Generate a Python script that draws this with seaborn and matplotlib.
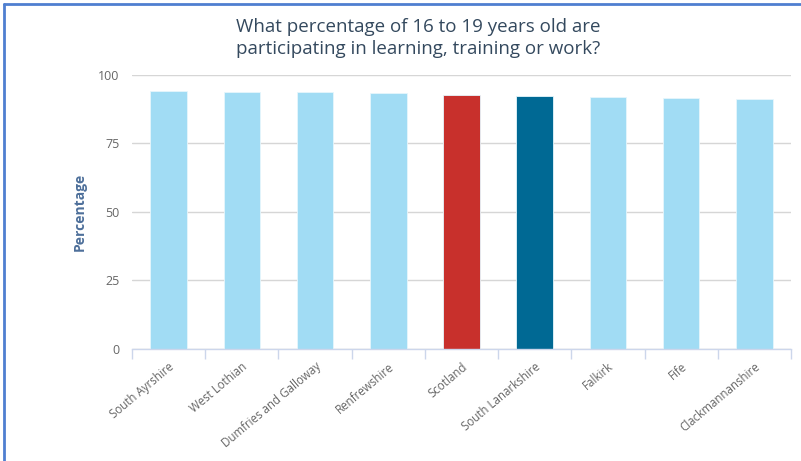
import matplotlib
matplotlib.use("Agg")
import matplotlib.pyplot as plt
import seaborn as sns
import pandas as pd
import numpy as np
from matplotlib.lines import Line2D

# data
areas = ["South Ayrshire", "West Lothian", "Dumfries and Galloway", "Renfrewshire",
         "Scotland", "South Lanarkshire", "Falkirk", "Fife", "Clackmannanshire"]
values = [94.1, 93.7, 93.7, 93.6, 92.7, 92.4, 92.0, 91.5, 91.1]
colours = ["#a1dcf4", "#a1dcf4", "#a1dcf4", "#a1dcf4", "#c8302c",
           "#006994", "#a1dcf4", "#a1dcf4", "#a1dcf4"]
yticks = [0, 25, 50, 75, 100]

df = pd.DataFrame({"area": areas, "value": values})

sns.set_style("white")
plt.rcParams['font.family'] = ['Open Sans', 'DejaVu Sans']

fig = plt.figure(figsize=(8.01, 4.61), dpi=100)
ax = fig.add_axes([0.1648, 0.2430, 0.8227, 0.5943])

sns.barplot(data=df, x="area", y="value", hue="area", palette=colours, saturation=1,
            legend=False, width=0.5, edgecolor="#e6f6fc", linewidth=0.6, ax=ax)

ax.set_ylim(0, 100)
ax.set_xlim(-0.5, len(areas) - 0.5)
ax.set_yticks(yticks)
ax.grid(axis="y", color="#d6d6d6", linewidth=1)
ax.set_axisbelow(True)
for s in ["top", "right", "left"]:
    ax.spines[s].set_visible(False)
ax.spines["bottom"].set_color("#ccd6eb")
ax.spines["bottom"].set_linewidth(1)

ax.tick_params(axis="y", length=0, labelsize=9, labelcolor="#666666", pad=9)
ax.set_xticks(range(len(areas)))
ax.set_xticklabels(areas, rotation=40, ha="right", rotation_mode="anchor")
ax.tick_params(axis="x", which="major", length=0, labelsize=8.3, labelcolor="#666666", pad=8)
ax.set_xticks(np.arange(-0.5, len(areas)), minor=True)
ax.tick_params(axis="x", which="minor", bottom=True, length=7, color="#ccd6eb", width=1)

ax.set_xlabel("")
ax.set_ylabel("Percentage", fontsize=10, fontweight="bold", color="#4d6f9a", labelpad=8)

fig.text(418 / 801, 1 - 38 / 461, "What percentage of 16 to 19 years old are\nparticipating in learning, training or work?",
         ha="center", va="center", fontsize=13.5, color="#34495e", linespacing=1.25)

# blue frame on top and left edges
fig.add_artist(Line2D([4 / 801, 4 / 801], [0, 1 - 4 / 461], transform=fig.transFigure,
                      color="#4f7fd0", linewidth=2))
fig.add_artist(Line2D([4 / 801, 1], [1 - 4 / 461, 1 - 4 / 461], transform=fig.transFigure,
                      color="#4f7fd0", linewidth=2))

fig.savefig("out.png", dpi=100)
